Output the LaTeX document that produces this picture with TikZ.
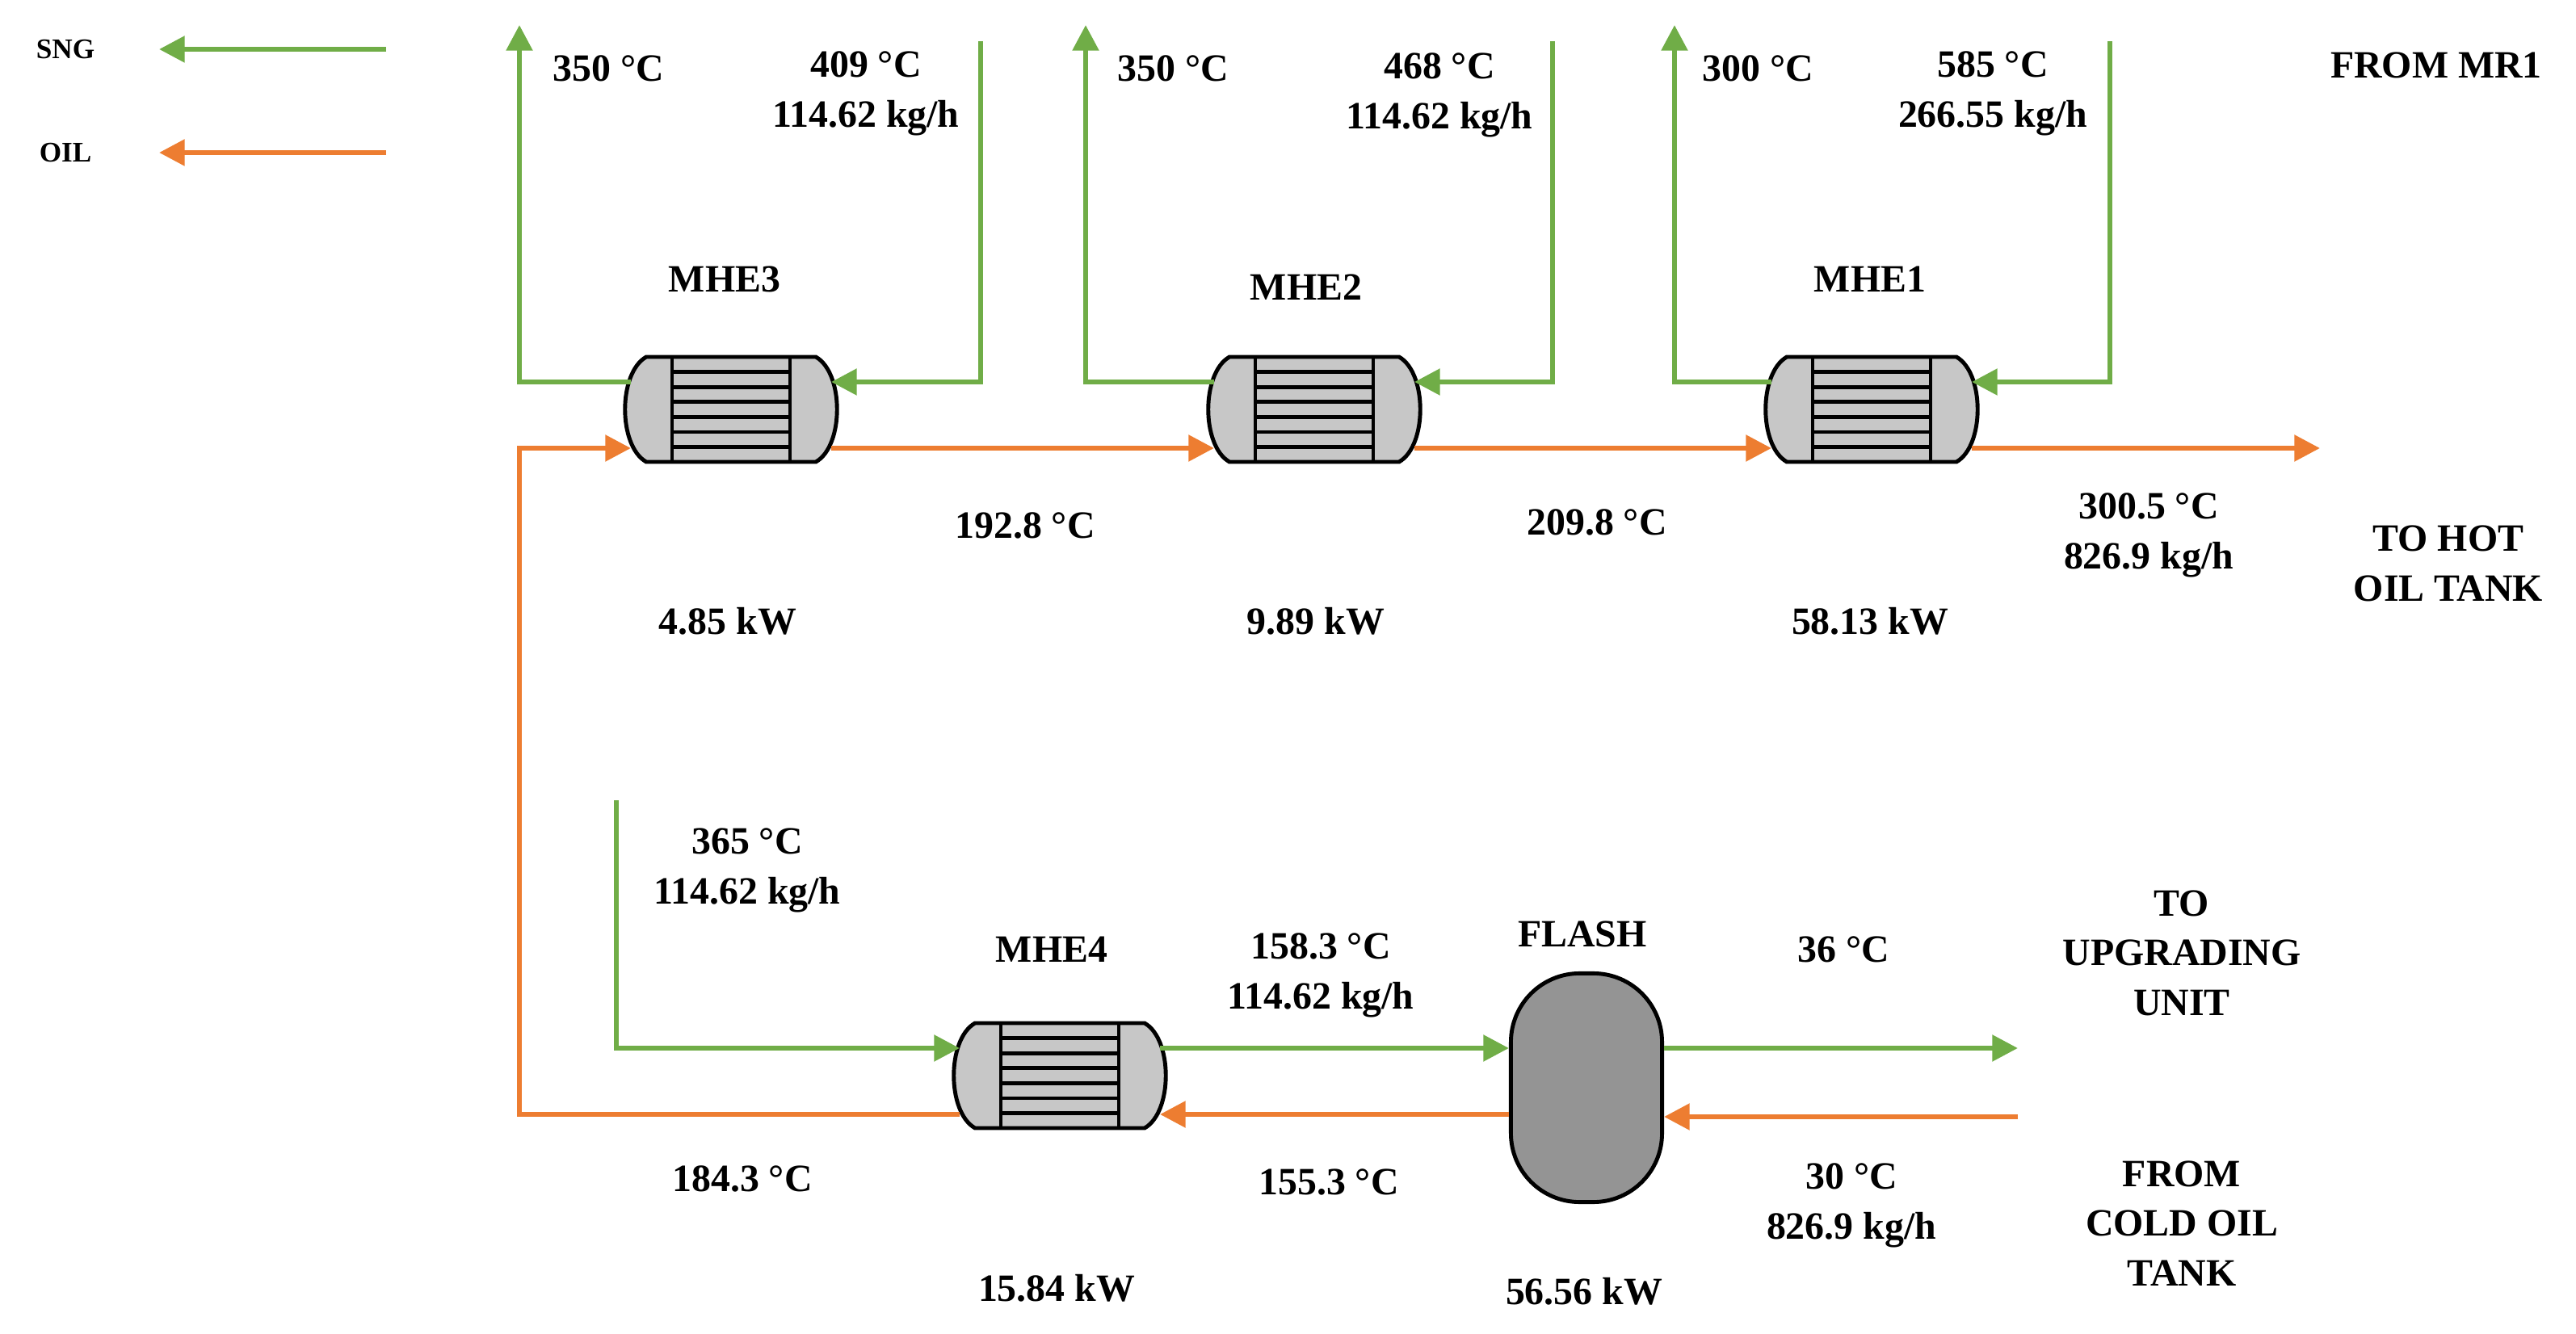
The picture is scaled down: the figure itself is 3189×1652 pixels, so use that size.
\documentclass[tikz,border=0pt]{standalone}
\usepackage{fontspec}
\setmainfont{Liberation Serif}
\usetikzlibrary{arrows.meta}
\definecolor{sng}{HTML}{70AD47}
\definecolor{oil}{HTML}{ED7D31}
\tikzset{
 gline/.style={draw=sng,line width=1.8pt},
 oline/.style={draw=oil,line width=1.8pt},
 arr/.style={-{Triangle[length=9pt,width=9pt]}},
 lbl/.style={font=\fontsize{13.6}{17.5}\selectfont\bfseries,align=center},
 leg/.style={font=\fontsize{10}{11}\selectfont\bfseries},
 hxbody/.style={fill=black!22,draw=black,line width=1.4pt},
}
\newcommand{\hx}[3]{%
 \path[hxbody] (#2-105,#3-65) -- (#2+105,#3-65) .. controls (#2+140,#3-45) and (#2+140,#3+45) .. (#2+105,#3+65) -- (#2-105,#3+65) .. controls (#2-140,#3+45) and (#2-140,#3-45) .. cycle;
 \draw[line width=1.4pt] (#2-73,#3-65) -- (#2-73,#3+65) (#2+73,#3-65) -- (#2+73,#3+65);
 \foreach \k in {1,...,6} {\draw[line width=1.4pt] (#2-73,#3-65+\k*18.6) -- (#2+73,#3-65+\k*18.6);}
 \node[minimum width=2.6cm,minimum height=1.3cm,inner sep=0] (#1) at (#2,#3) {};
 \coordinate (#1gl) at (#2-124,#3-34);
 \coordinate (#1gr) at (#2+124,#3-34);
 \coordinate (#1ol) at (#2-124,#3+48);
 \coordinate (#1or) at (#2+124,#3+48);
}
\begin{document}
\begin{tikzpicture}[x=0.01cm,y=-0.01cm]
\useasboundingbox (0,0) rectangle (3189,1652);
% legend
\node[leg] (lsng) at (81,61) {SNG};
\node[leg] (loil) at (81,189) {OIL};
\coordinate (ls1) at (478,61); \coordinate (ls2) at (197,61);
\coordinate (lo1) at (478,189); \coordinate (lo2) at (197,189);
\draw[gline,arr] (ls1) -- (ls2);
\draw[oline,arr] (lo1) -- (lo2);
% exchangers
\hx{mheiii}{905}{507}
\hx{mheii}{1627}{507}
\hx{mhei}{2317}{507}
\hx{mheiv}{1312}{1332}
% flash
\node[fill=black!42,draw=black,line width=1.4pt,rounded corners=0.85cm,minimum width=1.87cm,minimum height=2.83cm,inner sep=0] (flash) at (1964,1347) {};
% top green lines
\coordinate (g3up) at (643,31); \coordinate (g3in) at (1214,51);
\coordinate (g2up) at (1344,31); \coordinate (g2in) at (1922,51);
\coordinate (g1up) at (2073,31); \coordinate (g1in) at (2612,51);
\draw[gline,arr] (mheiiigl) -| (g3up);
\draw[gline,arr] (g3in) |- (mheiiigr);
\draw[gline,arr] (mheiigl) -| (g2up);
\draw[gline,arr] (g2in) |- (mheiigr);
\draw[gline,arr] (mheigl) -| (g1up);
\draw[gline,arr] (g1in) |- (mheigr);
% top orange
\coordinate (oout) at (2872,555);
\draw[oline,arr] (mheiiior) -- (mheiiol);
\draw[oline,arr] (mheiior) -- (mheiol);
\draw[oline,arr] (mheior) -- (oout);
\coordinate (ocorner) at (643,1380);
\draw[oline,arr] (mheivol) -- (ocorner) |- (mheiiiol);
% bottom green
\coordinate (g4start) at (763,991);
\coordinate (gout) at (2498,1298);
\draw[gline,arr] (g4start) |- (mheivgl);
\draw[gline,arr] (mheivgr) -- (flash.west |- mheivgr);
\draw[gline,arr] (flash.east |- mheivgr) -- (gout);
% bottom orange
\coordinate (oin) at (2498,1383);
\draw[oline,arr] (oin) -- (flash.east |- oin);
\draw[oline,arr] (flash.west |- mheivor) -- (mheivor);
% labels
\node[lbl] (t1) at (753,85) {350 °C};
\node[lbl] (t2) at (1072,116) {409 °C\\114.62 kg/h};
\node[lbl] (t3) at (1452,85) {350 °C};
\node[lbl] (t4) at (1782,118) {468 °C\\114.62 kg/h};
\node[lbl] (t5) at (2176,85) {300 °C};
\node[lbl] (t6) at (2467,116) {585 °C\\266.55 kg/h};
\node[lbl] (t7) at (3016,81) {FROM MR1};
\node[lbl] (n3) at (897,346) {MHE3};
\node[lbl] (n2) at (1617,356) {MHE2};
\node[lbl] (n1) at (2315,346) {MHE1};
\node[lbl] (t8) at (1269,651) {192.8 °C};
\node[lbl] (t9) at (1977,647) {209.8 °C};
\node[lbl] (t10) at (2660,663) {300.5 °C\\826.9 kg/h};
\node[lbl] (t11) at (3031,698) {TO HOT\\OIL TANK};
\node[lbl] (k3) at (901,769) {4.85 kW};
\node[lbl] (k2) at (1629,769) {9.89 kW};
\node[lbl] (k1) at (2315,769) {58.13 kW};
\node[lbl] (t12) at (925,1078) {365 °C\\114.62 kg/h};
\node[lbl] (n4) at (1302,1176) {MHE4};
\node[lbl] (t13) at (1635,1208) {158.3 °C\\114.62 kg/h};
\node[lbl] (nf) at (1959,1157) {FLASH};
\node[lbl] (t14) at (2282,1176) {36 °C};
\node[lbl] (t15) at (2701,1180) {TO\\UPGRADING\\UNIT};
\node[lbl] (t16) at (919,1460) {184.3 °C};
\node[lbl] (t17) at (1645,1464) {155.3 °C};
\node[lbl] (t18) at (2292,1493) {30 °C\\826.9 kg/h};
\node[lbl] (t19) at (2701,1515) {FROM\\COLD OIL\\TANK};
\node[lbl] (k4) at (1308,1595) {15.84 kW};
\node[lbl] (kf) at (1961,1599) {56.56 kW};
\end{tikzpicture}
\end{document}
